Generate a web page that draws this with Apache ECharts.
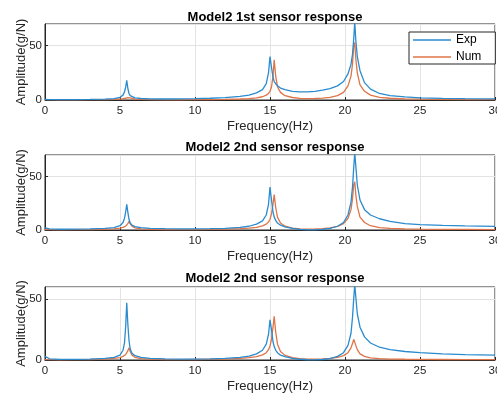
<!DOCTYPE html>
<html>
<head>
<meta charset="utf-8">
<script src="https://cdn.jsdelivr.net/npm/echarts@6/dist/echarts.min.js"></script>
<style>
  html, body { margin: 0; padding: 0; background: #fff; }
  #chart { width: 497px; height: 395px; }
</style>
</head>
<body>
<div id="chart"></div>
<script>
// frequency grid (Hz), shared by all curves
var freq = [0, 0.3, 1, 2, 3, 4,
  4.6, 5.0, 5.2, 5.3, 5.38, 5.45,
  5.52, 5.6, 5.68, 5.8, 6.0, 6.4,
  7, 8, 9, 10, 11, 12,
  13, 13.6, 14.1, 14.5, 14.75, 14.9,
  15.0, 15.1, 15.2, 15.28, 15.38, 15.5,
  15.7, 16.0, 16.5, 17, 17.5, 18,
  18.5, 19, 19.5, 19.9, 20.2, 20.4,
  20.5, 20.58, 20.65, 20.72, 20.82, 21.0,
  21.3, 21.7, 22.3, 23, 24, 25,
  26.5, 28, 30];

var titles = ['Model2 1st sensor response', 'Model2 2nd sensor response', 'Model2 2nd sensor response'];
var yMax = [70, 70, 60];

var exp1 = [0.5, 0.4, 0.3, 0.4, 0.5, 0.8,
  1.3, 2.5, 4.5, 7.5, 12, 18,
  11, 6, 4, 2.8, 2, 1.4,
  1, 0.9, 1, 1.2, 1.6, 2.2,
  3.3, 4.5, 6.5, 9.5, 15, 25,
  40, 30, 21, 17, 15, 13,
  11, 9.5, 8, 7.5, 7.5, 8,
  9, 10.5, 13, 17, 24, 33,
  42, 56, 72, 55, 40, 27,
  16, 10, 6, 4, 2.8, 2,
  1.5, 1.2, 1];
var num1 = [0.3, 0.3, 0.2, 0.2, 0.3, 0.4,
  0.6, 0.9, 1.2, 1.4, 1.6, 1.9,
  2.2, 2.4, 2, 1.3, 0.8, 0.5,
  0.3, 0.2, 0.2, 0.3, 0.4, 0.6,
  0.9, 1.3, 2, 3, 4.5, 6,
  8, 12, 22, 37, 22, 12,
  7, 4, 2.3, 1.5, 1.3, 1.4,
  1.8, 2.5, 4, 7, 13, 22,
  33, 50, 53, 38, 25, 14,
  8, 4.5, 2.5, 1.6, 1, 0.8,
  0.6, 0.4, 0.3];

var exp2 = [2, 1, 0.7, 0.8, 1, 1.5,
  2.2, 4, 7, 11, 17, 24,
  17, 10, 6.5, 4.5, 3.2, 2.2,
  1.6, 1.2, 1, 1, 1.2, 1.6,
  2.5, 3.5, 5.5, 8.5, 14, 24,
  40, 28, 17, 12, 9, 6.5,
  4.5, 3, 1.5, 0.6, 0.2, 0.1,
  0.5, 1.5, 3.5, 7, 14, 26,
  40, 58, 72, 60, 42, 28,
  19, 14, 10.5, 8, 6, 5,
  4.3, 3.8, 3.3];
var num2 = [0.3, 0.3, 0.2, 0.3, 0.4, 0.7,
  1.1, 1.8, 2.5, 3, 3.6, 4.5,
  6, 8, 6, 3.5, 2, 1.1,
  0.6, 0.4, 0.3, 0.4, 0.5, 0.8,
  1.2, 1.7, 2.5, 3.8, 5.5, 7.5,
  10, 15, 24, 33, 21, 12,
  6.5, 3.5, 1.8, 1.1, 0.9, 1,
  1.3, 2, 3.3, 6, 11, 19,
  29, 42, 45, 33, 22, 12,
  7, 4, 2.3, 1.5, 1, 0.8,
  0.6, 0.5, 0.4];

var exp3 = [3, 1, 0.5, 0.5, 0.7, 1.3,
  2.2, 4, 8, 14, 28, 47,
  30, 16, 9, 5.5, 3.5, 2.2,
  1.4, 1, 0.8, 0.8, 1, 1.4,
  2.2, 3.2, 5, 8, 13, 21,
  33, 25, 15, 11, 8, 6,
  4, 2.8, 1.4, 0.6, 0.2, 0.1,
  0.4, 1.2, 3, 6, 12, 22,
  35, 50, 62, 52, 38, 27,
  19, 14, 10.5, 8.5, 7, 6,
  5, 4.5, 4];
var num3 = [0.3, 0.3, 0.2, 0.3, 0.4, 0.8,
  1.3, 2, 3, 3.6, 4.5, 5.5,
  7.5, 10, 7, 4, 2.2, 1.2,
  0.7, 0.4, 0.3, 0.4, 0.5, 0.8,
  1.3, 1.9, 2.8, 4.2, 6, 8.5,
  11.5, 17, 27, 36, 23, 13,
  7, 3.8, 1.9, 1.1, 0.8, 0.8,
  1, 1.4, 2.2, 3.6, 6, 10,
  13.5, 17, 16.5, 12, 8.5, 5,
  3, 1.8, 1.1, 0.8, 0.6, 0.5,
  0.4, 0.35, 0.3];

var expSets = [exp1, exp2, exp3];
var numSets = [num1, num2, num3];

var FONT = '"Liberation Sans", Arial, sans-serif';
var AXIS = '#262626';
var BLUE = '#2a8bcf';
var ORANGE = '#de7447';

var gridBox = [
  { left: 45, top: 24, width: 450, height: 76 },
  { left: 45, top: 155, width: 450, height: 75 },
  { left: 45, top: 287, width: 450, height: 73 }
];
var titleTop = [6, 136, 267];

var pairs = (ys) => freq.map((f, i) => [f, ys[i]]);

var grids = [], xAxes = [], yAxes = [], series = [], titleList = [];
gridBox.forEach((g, i) => {
  grids.push(Object.assign({
    show: true, borderColor: AXIS, borderWidth: 1, backgroundColor: '#fff',
    containLabel: false, outerBoundsMode: 'none'
  }, g));
  titleList.push({
    text: titles[i], left: 270, top: titleTop[i], textAlign: 'center',
    textStyle: { fontFamily: FONT, fontSize: 13, fontWeight: 'bold', color: '#000' }
  });
  xAxes.push({
    type: 'value', gridIndex: i, min: 0, max: 30, interval: 5,
    name: 'Frequency(Hz)', nameLocation: 'middle', nameGap: 20, nameMoveOverlap: false,
    nameTextStyle: { fontFamily: FONT, fontSize: 13, color: AXIS },
    axisLine: { lineStyle: { color: AXIS, width: 1 } },
    axisTick: { inside: true, length: 3, lineStyle: { color: AXIS } },
    axisLabel: { fontFamily: FONT, fontSize: 11.5, color: AXIS, margin: 5 },
    splitLine: { show: true, lineStyle: { color: '#e3e3e3', width: 1 } }
  });
  yAxes.push({
    type: 'value', gridIndex: i, min: 0, max: yMax[i], interval: 50,
    name: 'Amplitude(g/N)', nameLocation: 'middle', nameGap: 17, nameMoveOverlap: false,
    nameTextStyle: { fontFamily: FONT, fontSize: 13, color: AXIS },
    axisLine: { show: true, lineStyle: { color: AXIS, width: 1 } },
    axisTick: { show: true, inside: true, length: 3, lineStyle: { color: AXIS } },
    axisLabel: { fontFamily: FONT, fontSize: 11.5, color: AXIS, margin: 3, showMaxLabel: false },
    splitLine: { show: true, lineStyle: { color: '#e3e3e3', width: 1 } }
  });
  series.push({
    name: 'Exp', type: 'line', xAxisIndex: i, yAxisIndex: i,
    data: pairs(expSets[i]), showSymbol: false, symbol: 'none',
    lineStyle: { color: BLUE, width: 1.3 }, itemStyle: { color: BLUE },
    animation: false, z: 3
  });
  series.push({
    name: 'Num', type: 'line', xAxisIndex: i, yAxisIndex: i,
    data: pairs(numSets[i]), showSymbol: false, symbol: 'none',
    lineStyle: { color: ORANGE, width: 1.3 }, itemStyle: { color: ORANGE },
    animation: false, z: 2
  });
});

var chart = echarts.init(document.getElementById('chart'), null, { renderer: 'canvas' });
chart.setOption({
  backgroundColor: '#fff',
  animation: false,
  title: titleList,
  legend: {
    data: ['Exp', 'Num'], orient: 'vertical', left: 409, top: 32,
    selectedMode: false, icon: 'rect', itemWidth: 38, itemHeight: 1.5, itemGap: 3,
    backgroundColor: '#fff', borderColor: AXIS, borderWidth: 1, padding: [1, 14, 0, 4],
    textStyle: { fontFamily: FONT, fontSize: 12, color: '#000', lineHeight: 14 }
  },
  grid: grids,
  xAxis: xAxes,
  yAxis: yAxes,
  series: series
});
</script>
</body>
</html>
